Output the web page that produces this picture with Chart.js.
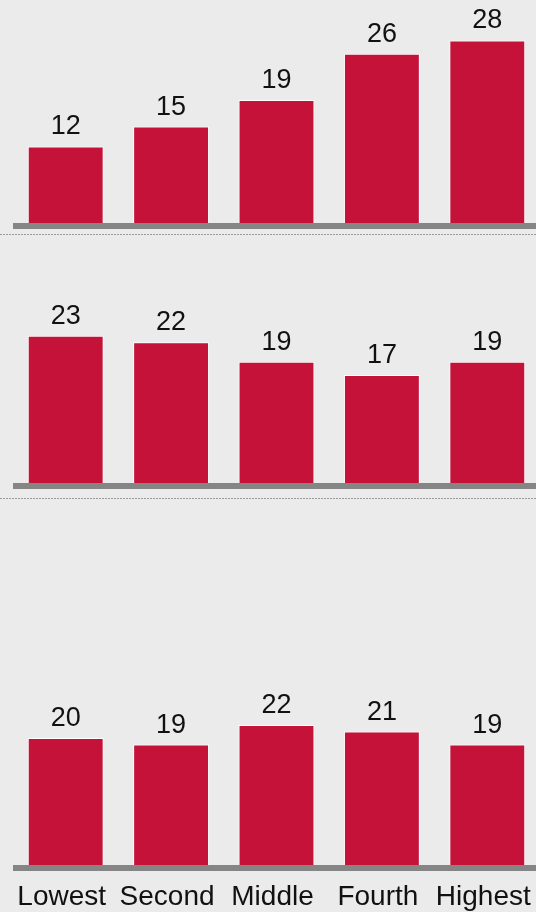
<!DOCTYPE html>
<html>
<head>
<meta charset="utf-8">
<script src="https://cdn.jsdelivr.net/npm/chart.js@4/dist/chart.umd.min.js"></script>
<style>
  html, body { margin: 0; padding: 0; background: #ebebeb; }
  #wrap { position: relative; width: 536px; height: 912px; background: #ebebeb; overflow: hidden; }
  canvas { position: absolute; left: 0; }
  .sep { position: absolute; left: 0; width: 536px; height: 1px;
         background: repeating-linear-gradient(to right, #9a9a9a 0, #9a9a9a 2px, transparent 2px, transparent 3px); }
</style>
</head>
<body>
<div id="wrap">
  <canvas id="c1" width="540" height="234" style="top:0px"></canvas>
  <div class="sep" style="top:234px"></div>
  <canvas id="c2" width="540" height="263" style="top:235px"></canvas>
  <div class="sep" style="top:498px"></div>
  <canvas id="c3" width="540" height="413" style="top:499px"></canvas>
</div>
<script>
// ---- data ----
const categories = ["Lowest", "Second", "Middle", "Fourth", "Highest"];
const panel1Values = [12, 15, 19, 26, 28];
const panel2Values = [23, 22, 19, 17, 19];
const panel3Values = [20, 19, 22, 21, 19];

// ---- styles ----
const BAR_COLOR = "#c41239";
const BASE_COLOR = "#858585";
const TEXT_COLOR = "#111111";
const FONT_FAMILY = "'Liberation Sans', Arial, Helvetica, sans-serif";

const baselinePlugin = {
  id: "baseline",
  afterDatasetsDraw(chart) {
    const ctx = chart.ctx;
    const y = chart.scales.y.getPixelForValue(0);
    ctx.save();
    ctx.strokeStyle = BASE_COLOR;
    ctx.lineWidth = 6;
    ctx.beginPath();
    ctx.moveTo(chart.chartArea.left, y);
    ctx.lineTo(chart.width, y);
    ctx.stroke();
    ctx.restore();
  }
};

const valueLabelPlugin = {
  id: "valueLabels",
  afterDatasetsDraw(chart) {
    const ctx = chart.ctx;
    const ds = chart.data.datasets[0];
    const meta = chart.getDatasetMeta(0);
    ctx.save();
    ctx.font = "27px " + FONT_FAMILY;
    ctx.fillStyle = TEXT_COLOR;
    ctx.textAlign = "center";
    ctx.textBaseline = "alphabetic";
    meta.data.forEach((bar, i) => {
      ctx.fillText(String(ds.data[i]), bar.x, bar.y - 12);
    });
    ctx.restore();
  }
};

function makeChart(id, values, yMax, showX, padBottom) {
  const xScale = {
    display: showX,
    grid: { display: false, drawTicks: false },
    border: { display: false },
    ticks: {
      color: TEXT_COLOR,
      font: { family: FONT_FAMILY, size: 28, lineHeight: 1.84 },
      padding: 4,
      labelOffset: -4,
      maxRotation: 0,
      autoSkip: false
    }
  };
  if (showX) {
    xScale.afterFit = function (scale) { scale.height = 44; };
  }
  return new Chart(document.getElementById(id), {
    type: "bar",
    data: {
      labels: categories,
      datasets: [{
        data: values,
        backgroundColor: BAR_COLOR,
        borderColor: "#ffffff",
        borderWidth: 1,
        borderSkipped: "bottom",
        barPercentage: 0.72,
        categoryPercentage: 1.0
      }]
    },
    options: {
      responsive: false,
      devicePixelRatio: 1,
      animation: false,
      events: [],
      layout: { padding: { left: 13, right: 0, top: 0, bottom: padBottom } },
      plugins: { legend: { display: false }, tooltip: { enabled: false } },
      scales: {
        x: xScale,
        y: { display: false, min: 0, max: yMax }
      }
    },
    plugins: [baselinePlugin, valueLabelPlugin]
  });
}

makeChart("c1", panel1Values, 34.1, false, 8);
makeChart("c2", panel2Values, 38.4, false, 12);
makeChart("c3", panel3Values, 56.8, true, 0);
</script>
</body>
</html>
